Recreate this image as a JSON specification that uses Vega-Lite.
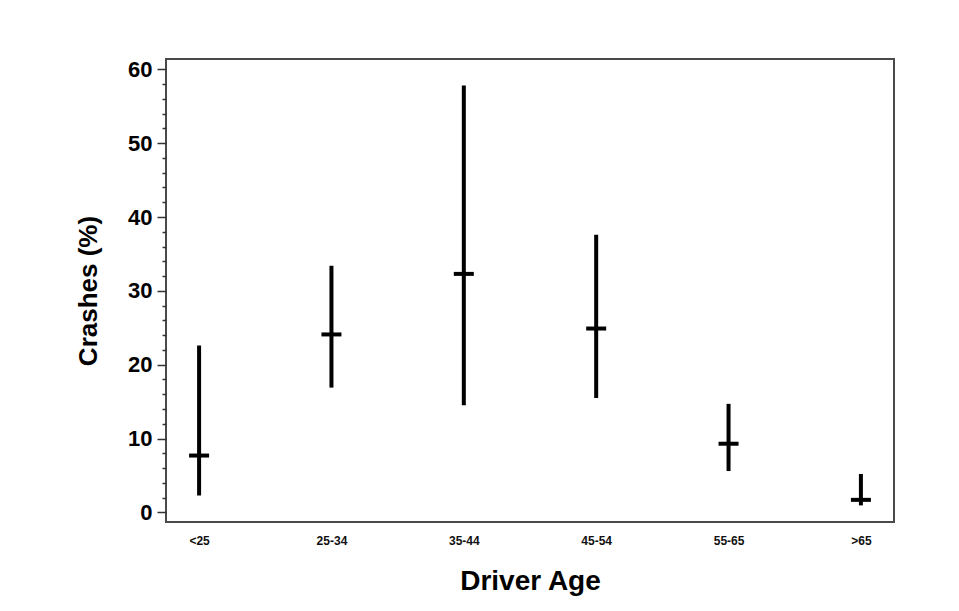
{
  "$schema": "https://vega.github.io/schema/vega-lite/v6.json",
  "autosize": "none",
  "width": 728,
  "height": 463,
  "padding": {"left": 166, "top": 59, "right": 65, "bottom": 89},
  "background": "white",
  "config": {
    "view": {"stroke": "#4a4a4a", "strokeWidth": 2},
    "font": "Liberation Sans"
  },
  "data": {
    "values": [
      {"age": "<25", "mid": 7.7, "low": 2.3, "high": 22.6},
      {"age": "25-34", "mid": 24.1, "low": 16.9, "high": 33.4},
      {"age": "35-44", "mid": 32.3, "low": 14.5, "high": 57.8},
      {"age": "45-54", "mid": 24.9, "low": 15.5, "high": 37.6},
      {"age": "55-65", "mid": 9.3, "low": 5.6, "high": 14.7},
      {"age": ">65", "mid": 1.7, "low": 0.95, "high": 5.2}
    ]
  },
  "resolve": {"axis": {"y": "independent"}},
  "layer": [
    {
      "mark": {"type": "rule", "color": "black", "strokeWidth": 4},
      "encoding": {
        "x": {
          "field": "age", "type": "ordinal", "sort": null,
          "scale": {"type": "point", "padding": 0.25},
          "axis": {
            "title": "Driver Age", "titleFontSize": 28, "titleFontWeight": "bold",
            "titleColor": "black", "titlePadding": 21,
            "labelFont": "Liberation Sans", "labelFontSize": 12, "labelFontWeight": "bold",
            "labelColor": "#111", "labelAngle": 0, "labelPadding": 13,
            "ticks": false, "domain": false
          }
        },
        "y": {
          "field": "low", "type": "quantitative",
          "scale": {"domain": [-1.3, 61.4], "nice": false, "zero": false},
          "axis": {
            "orient": "left",
            "title": "Crashes (%)", "titleFontSize": 26, "titleFontWeight": "bold",
            "titleColor": "black", "titlePadding": 26,
            "values": [0, 10, 20, 30, 40, 50, 60],
            "labelFontSize": 22, "labelFontWeight": "bold", "labelColor": "black",
            "labelPadding": 5, "tickSize": 9, "tickColor": "#333", "tickWidth": 1.5,
            "grid": false, "domain": false
          }
        },
        "y2": {"field": "high"}
      }
    },
    {
      "mark": {"type": "tick", "color": "black", "size": 20, "thickness": 4, "opacity": 1},
      "encoding": {
        "x": {"field": "age", "type": "ordinal", "sort": null},
        "y": {
          "field": "mid", "type": "quantitative",
          "axis": {
            "orient": "left", "title": null, "labels": false,
            "values": [2, 4, 6, 8, 12, 14, 16, 18, 22, 24, 26, 28, 32, 34, 36, 38, 42, 44, 46, 48, 52, 54, 56, 58],
            "tickSize": 4, "tickColor": "#333", "tickWidth": 1.5, "grid": false, "domain": false
          }
        }
      }
    }
  ]
}
